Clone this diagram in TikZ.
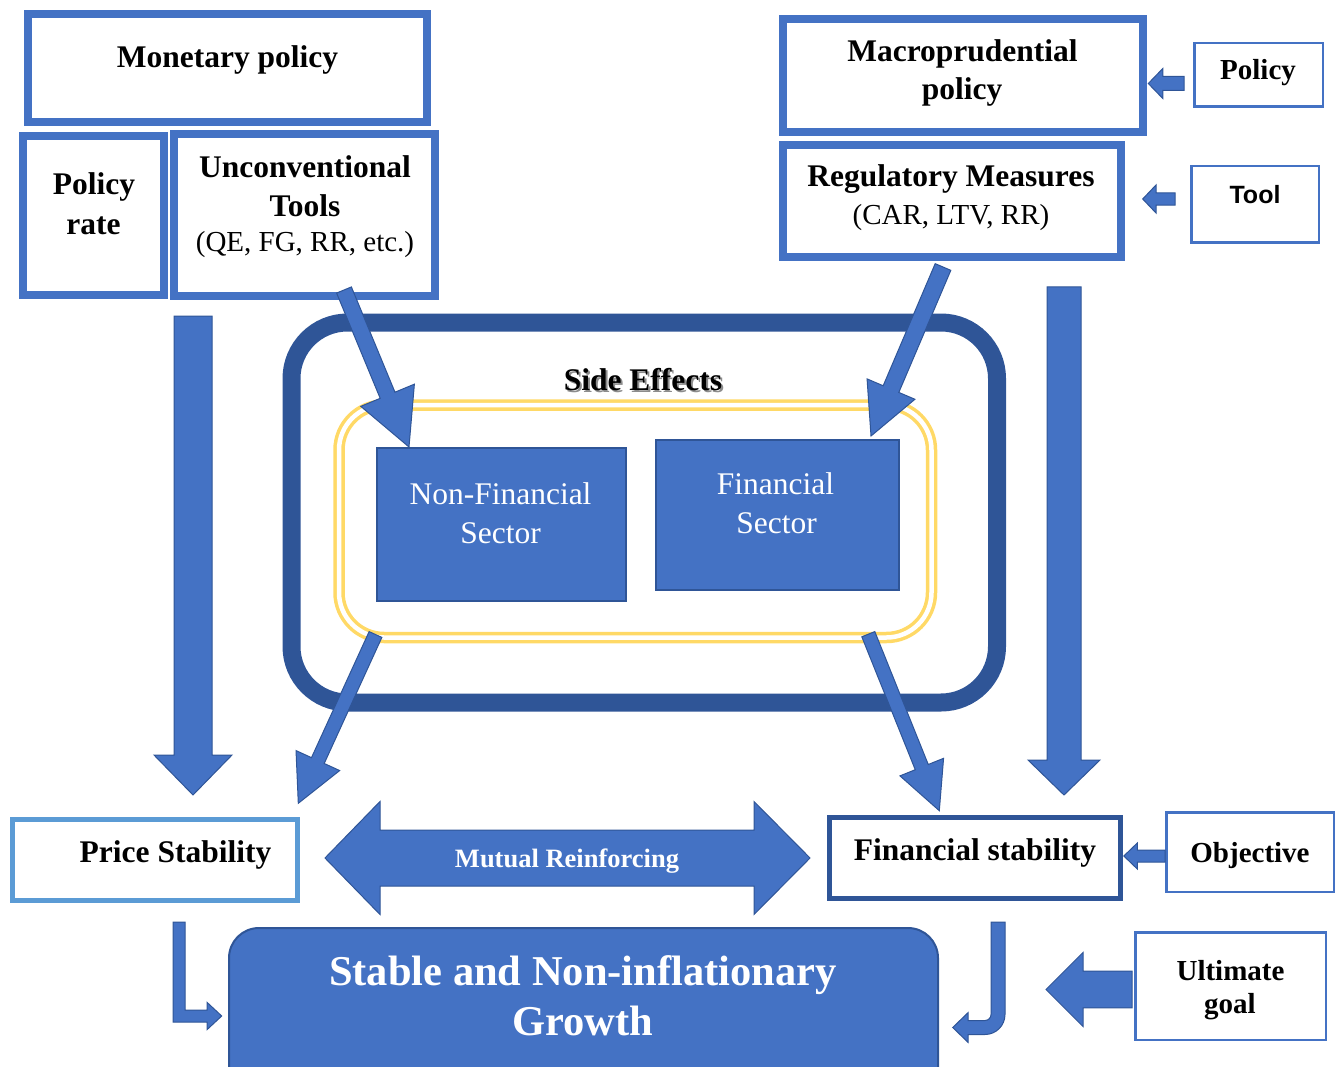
\documentclass[tikz,border=0pt]{standalone}
\usepackage{fontspec}
\setmainfont{Liberation Serif}
\newfontfamily\toolsans{Liberation Sans}
\usetikzlibrary{calc}

\definecolor{bluef}{HTML}{4472C4}
\definecolor{blued}{HTML}{2F5597}
\definecolor{bluel}{HTML}{5B9BD5}
\definecolor{goldl}{HTML}{FFD966}

% straight block arrow: #1 from, #2 tip, #3 half shaft, #4 half head, #5 head length
\newcommand{\blockarrow}[5]{%
  \coordinate (ba-base) at ($(#2)!#5!(#1)$);
  \filldraw[blockarrow]
    ($(#1)!#3!90:(#2)$) -- ($(ba-base)!#3!90:(#2)$) -- ($(ba-base)!#4!90:(#2)$)
    -- (#2)
    -- ($(ba-base)!#4!-90:(#2)$) -- ($(ba-base)!#3!-90:(#2)$) -- ($(#1)!#3!-90:(#2)$) -- cycle;}

\begin{document}
\begin{tikzpicture}[x=1pt, y=-1pt,
  box/.style={draw=bluef, line width=8pt, inner sep=0pt, fill=white},
  thinbox/.style={draw=bluef, line width=2.5pt, inner sep=0pt, fill=white},
  goalbox/.style={line width=5pt, inner sep=0pt, fill=white},
  sector/.style={fill=bluef, draw=blued, line width=2pt, inner sep=0pt},
  blockarrow/.style={fill=bluef, draw=blued, line width=1pt, line join=miter},
  lbl/.style={anchor=base, inner sep=0pt, outer sep=0pt},
  bigbold/.style={lbl, font=\fontsize{31.5}{38}\selectfont\bfseries},
  midbold/.style={lbl, font=\fontsize{29}{35}\selectfont\bfseries},
  plain/.style={lbl, font=\fontsize{29}{35}\selectfont},
  sectortext/.style={lbl, text=white, font=\fontsize{31.5}{38}\selectfont},
]
\useasboundingbox (0,0) rectangle (1341,1067);
\clip (0,0) rectangle (1341,1067);

% ---------- monetary policy side ----------
\node[box, minimum width=399pt, minimum height=108pt] (mon) at (227.5,68) {};
\node[bigbold] (monT) at (227.5,68) {Monetary policy};

\node[box, minimum width=141pt, minimum height=159pt] (rate) at (93.5,215.5) {};
\node[bigbold] (rateT1) at (94,195) {Policy};
\node[bigbold] (rateT2) at (93.5,235) {rate};

\node[box, minimum width=261pt, minimum height=162pt] (unconv) at (304.5,215) {};
\node[bigbold] (unconvT1) at (305,178) {Unconventional};
\node[bigbold] (unconvT2) at (305,217) {Tools};
\node[plain] (unconvT3) at (305,252) {(QE, FG, RR, etc.)};

% ---------- macroprudential side ----------
\node[box, minimum width=360pt, minimum height=113pt] (macro) at (963,75.5) {};
\node[bigbold] (macroT1) at (962.5,62) {Macroprudential};
\node[bigbold] (macroT2) at (962,100) {policy};

\node[box, minimum width=338pt, minimum height=112pt] (reg) at (952,201) {};
\node[bigbold] (regT1) at (951,187) {Regulatory Measures};
\node[plain] (regT2) at (951,225) {(CAR, LTV, RR)};

\node[thinbox, minimum width=128.5pt, minimum height=63.5pt] (polbox) at (1258.5,75) {};
\node[midbold] (polT) at (1258,80) {Policy};

\node[thinbox, minimum width=127.5pt, minimum height=76.5pt] (toolbox) at (1255,204.5) {};
\node[lbl, font=\toolsans\fontsize{25}{30}\selectfont\bfseries] (toolT) at (1255,204) {Tool};

% ---------- side effects frame ----------
\node[draw=blued, line width=18pt, rounded corners=56pt, inner sep=0pt,
      minimum width=705.5pt, minimum height=380pt] (side) at (644.25,512.5) {};
\node[bigbold, text=black!45] (sideS) at (645,392) {Side Effects};
\node[bigbold] (sideT) at (643,390) {Side Effects};

\node[draw=goldl, double=white, double distance=4.5pt, line width=3.5pt,
      rounded corners=45pt, inner sep=0pt,
      minimum width=592.5pt, minimum height=232.5pt] (ring) at (635.25,521.25) {};

\node[sector, minimum width=249pt, minimum height=153pt] (nonfin) at (501.5,524.5) {};
\node[sectortext] (nonfinT1) at (500.5,504) {Non-Financial};
\node[sectortext] (nonfinT2) at (500.5,543) {Sector};

\node[sector, minimum width=243pt, minimum height=150pt] (fin) at (777.5,515) {};
\node[sectortext] (finT1) at (775.5,494) {Financial};
\node[sectortext] (finT2) at (776.5,533) {Sector};

% ---------- objectives ----------
\node[goalbox, draw=bluel, minimum width=285pt, minimum height=81pt] (price) at (155,860) {};
\node[bigbold] (priceT) at (175.5,862) {Price Stability};

\node[goalbox, draw=blued, minimum width=291pt, minimum height=81pt] (finstab) at (975,858) {};
\node[bigbold] (finstabT) at (975,860) {Financial stability};

\node[thinbox, minimum width=167.5pt, minimum height=79.5pt] (objbox) at (1250,852) {};
\node[midbold] (objT) at (1250,862) {Objective};

\node[thinbox, minimum width=190.5pt, minimum height=107.5pt] (ultbox) at (1230.5,986) {};
\node[midbold] (ultT1) at (1230.5,980) {Ultimate};
\node[midbold] (ultT2) at (1230,1013) {goal};

\node[fill=bluef, draw=blued, line width=2pt, rounded corners=30pt, inner sep=0pt,
      minimum width=709pt, minimum height=171pt] (growth) at (583.5,1013.5) {};
\node[lbl, text=white, font=\fontsize{42.5}{50}\selectfont\bfseries] (growthT1) at (583,985) {Stable and Non-inflationary};
\node[lbl, text=white, font=\fontsize{42.5}{50}\selectfont\bfseries] (growthT2) at (582.5,1035) {Growth};

% ---------- connector end points ----------
\coordinate (a1s) at (193,316);     \coordinate (a1t) at (193,795);
\coordinate (a2s) at (1064,287);    \coordinate (a2t) at (1064,795);
\coordinate (a3s) at (344,290);     \coordinate (a3t) at (409,447);
\coordinate (a4s) at (943,267);     \coordinate (a4t) at (871,436);
\coordinate (a5s) at (375.5,634.5); \coordinate (a5t) at (298.3,803.3);
\coordinate (a6s) at (868.3,634.2); \coordinate (a6t) at (939.3,810.7);
\coordinate (a7s) at (1184,83.5);   \coordinate (a7t) at (1148.3,83.5);
\coordinate (a8s) at (1175,199);    \coordinate (a8t) at (1142.7,199);
\coordinate (a9s) at (1165,856);    \coordinate (a9t) at (1123.8,856);
\coordinate (a10s) at (1132,989.5); \coordinate (a10t) at (1046,989.5);
\coordinate (mutL) at (325,858);    \coordinate (mutR) at (810,858);
\coordinate (pbS) at (179,922);     \coordinate (pbT) at (221.7,1016);
\coordinate (fjS) at (998,922);     \coordinate (fjT) at (952.7,1027.5);

% ---------- block arrows ----------
\blockarrow{a1s}{a1t}{19pt}{39pt}{40pt}
\blockarrow{a2s}{a2t}{17pt}{36pt}{35pt}
\blockarrow{a3s}{a3t}{8pt}{29pt}{56pt}
\blockarrow{a4s}{a4t}{8.5pt}{26pt}{51pt}
\blockarrow{a5s}{a5t}{7pt}{24pt}{47pt}
\blockarrow{a6s}{a6t}{7pt}{23.5pt}{47pt}
\blockarrow{a7s}{a7t}{7pt}{15pt}{14.5pt}
\blockarrow{a8s}{a8t}{6.2pt}{14pt}{13.3pt}
\blockarrow{a9s}{a9t}{6pt}{13pt}{13.5pt}
\blockarrow{a10s}{a10t}{18.3pt}{37pt}{37pt}

% two-headed arrow between the objectives
\filldraw[blockarrow] (mutL) -- ($(mutL)+(55,-56.5)$) -- ($(mutL)+(55,-28)$)
  -- ($(mutR)+(-56,-28)$) -- ($(mutR)+(-56,-56.5)$) -- (mutR)
  -- ($(mutR)+(-56,56.5)$) -- ($(mutR)+(-56,28)$)
  -- ($(mutL)+(55,28)$) -- ($(mutL)+(55,56.5)$) -- cycle;
\node[lbl, text=white, font=\fontsize{26.5}{32}\selectfont\bfseries] (mutT) at (567,867) {Mutual Reinforcing};

% bent arrow from price stability into the growth box
\filldraw[blockarrow] ($(pbS)+(-6,0)$) -- ($(pbS)+(6,0)$) -- ($(pbS|-pbT)+(6,-6)$)
  -- ($(pbT)+(-14.5,-6)$) -- ($(pbT)+(-14.5,-13.5)$) -- (pbT)
  -- ($(pbT)+(-14.5,13.5)$) -- ($(pbT)+(-14.5,6)$) -- ($(pbS|-pbT)+(-6,6)$) -- cycle;

% hooked arrow from financial stability into the growth box
\filldraw[blockarrow] ($(fjS)+(-7,0)$) -- ($(fjS)+(7,0)$) -- ($(fjS|-fjT)+(7,-13)$)
  arc[start angle=0, end angle=-90, radius=20pt]
  -- ($(fjT)+(15.5,7)$) -- ($(fjT)+(15.5,15)$) -- (fjT)
  -- ($(fjT)+(15.5,-15)$) -- ($(fjT)+(15.5,-7)$) -- ($(fjS|-fjT)+(-13,-7)$)
  arc[start angle=-90, end angle=0, radius=6pt] -- cycle;
\end{tikzpicture}
\end{document}
